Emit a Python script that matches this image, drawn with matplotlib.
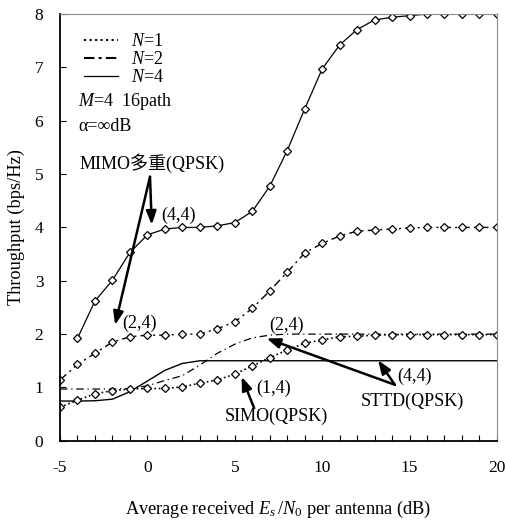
import matplotlib
matplotlib.use('Agg')
import matplotlib.pyplot as plt
from matplotlib.lines import Line2D
from matplotlib.ticker import MultipleLocator

plt.rcParams['font.family'] = ['Liberation Serif', 'Noto Sans CJK JP']
plt.rcParams['mathtext.fontset'] = 'custom'
plt.rcParams['mathtext.rm'] = 'Liberation Serif'
plt.rcParams['mathtext.it'] = 'Liberation Serif:italic'
plt.rcParams['axes.unicode_minus'] = False

# Es/N0 (dB)
snr = list(range(-5, 21))
snr_mimo44 = list(range(-4, 21))

# throughput (bps/Hz)
mimo44 = [1.92, 2.62, 3.01, 3.53, 3.86, 3.97, 4.0, 4.0, 4.03, 4.09, 4.30, 4.77,
          5.44, 6.22, 6.97, 7.42, 7.71, 7.89, 7.94, 7.97, 8.0, 8.0, 8.0, 8.0, 8.0]
mimo24 = [1.14, 1.43, 1.64, 1.85, 1.95, 1.98, 1.98, 2.0, 2.0, 2.1, 2.23, 2.48, 2.81,
          3.16, 3.52, 3.70, 3.84, 3.93, 3.95, 3.97, 3.99, 4.0, 4.0, 4.0, 4.0, 4.0]
simo14 = [0.63, 0.76, 0.88, 0.94, 0.97, 0.98, 0.98, 1.01, 1.08, 1.14, 1.25, 1.40, 1.56,
          1.70, 1.83, 1.89, 1.95, 1.96, 1.98, 1.99, 1.99, 1.99, 1.99, 1.99, 1.99, 1.99]
sttd44 = [0.745, 0.745, 0.75, 0.78, 0.92, 1.12, 1.32, 1.45, 1.5, 1.5, 1.5, 1.5, 1.5,
          1.5, 1.5, 1.5, 1.5, 1.5, 1.5, 1.5, 1.5, 1.5, 1.5, 1.5, 1.5, 1.5]
sttd24 = [0.97, 0.97, 0.97, 0.97, 0.98, 1.03, 1.13, 1.22, 1.42, 1.64, 1.81, 1.93, 1.98,
          2.0, 2.0, 2.0, 2.0, 2.0, 2.0, 2.0, 2.0, 2.0, 2.0, 2.0, 2.0, 2.0]

fig = plt.figure(figsize=(5.06, 5.21), dpi=100)
ax = fig.add_axes([0.1186, 0.154, 0.8634, 0.819])

mk = dict(marker='D', markersize=4.5, markerfacecolor='white',
          markeredgecolor='black', markeredgewidth=0.9)

ax.plot(snr, sttd44, '-', color='black', lw=1.0)
ax.plot(snr, sttd24, color='black', lw=0.9, dashes=[6, 3, 1, 3])
ax.plot(snr, simo14, ':', color='black', lw=1.2, **mk)
ax.plot(snr, mimo24, color='black', lw=1.0, dashes=[6, 3, 1.5, 3], **mk)
ax.plot(snr_mimo44, mimo44, '-', color='black', lw=0.9, **mk)

ax.set_xlim(-5, 20)
ax.set_ylim(0, 8)
ax.xaxis.set_major_locator(MultipleLocator(5))
ax.xaxis.set_minor_locator(MultipleLocator(1))
ax.yaxis.set_major_locator(MultipleLocator(1))
ax.tick_params(axis='x', which='both', direction='in', length=4, width=0.8, pad=14, labelsize=12.5)
ax.tick_params(axis='y', which='both', direction='in', length=4, width=0.8, pad=12, labelsize=12.5)
for s in ['left', 'bottom']:
    ax.spines[s].set_linewidth(1.3)
for s in ['top', 'right']:
    ax.spines[s].set_color('#888888')
    ax.spines[s].set_linewidth(0.8)

ax.set_xlabel('Average received $E_s\\,/N_0$ per antenna (dB)', fontsize=13.2, labelpad=16)
ax.set_ylabel('Throughput (bps/Hz)', fontsize=13.2, labelpad=7)

handles = [Line2D([], [], color='black', ls=':', lw=1.5),
           Line2D([], [], color='black', lw=1.5, dashes=[5, 2, 1.5, 2]),
           Line2D([], [], color='black', ls='-', lw=0.9)]
ax.legend(handles, ['$N$=1', '$N$=2', '$N$=4'], loc='upper left', frameon=False,
          fontsize=13, handlelength=1.9, handletextpad=0.7, labelspacing=0.05,
          borderaxespad=0.3, bbox_to_anchor=(0.025, 0.985))

ax.text(-3.97, 6.36, '$M$=4  16path', fontsize=13, va='center')
ax.text(-3.97, 5.89, 'α=∞dB', fontsize=13, va='center')
ax.text(-3.9, 5.21, 'MIMO多重(QPSK)', fontsize=13, va='center')

arrow = dict(arrowstyle='-|>,head_width=0.3,head_length=0.8', color='black', lw=1.8,
             shrinkA=0, shrinkB=0)
ax.annotate('', xy=(0.25, 4.05), xytext=(0.15, 4.95), arrowprops=arrow)
ax.annotate('', xy=(-1.85, 2.17), xytext=(0.15, 4.95), arrowprops=arrow)
ax.text(1.8, 4.22, '(4,4)', fontsize=13, ha='center', va='center')
ax.text(-0.45, 2.2, '(2,4)', fontsize=13, ha='center', va='center')

ax.text(7.95, 2.17, '(2,4)', fontsize=13, ha='center', va='center')
ax.text(15.3, 1.2, '(4,4)', fontsize=13, ha='center', va='center')
ax.text(15.15, 0.73, 'STTD(QPSK)', fontsize=13, ha='center', va='center')
ax.annotate('', xy=(6.82, 1.92), xytext=(14.16, 1.05), arrowprops=arrow)
ax.annotate('', xy=(13.2, 1.51), xytext=(14.16, 1.05), arrowprops=arrow)

ax.text(7.2, 0.99, '(1,4)', fontsize=13, ha='center', va='center')
ax.text(7.4, 0.45, 'SIMO(QPSK)', fontsize=13, ha='center', va='center')
ax.annotate('', xy=(5.39, 1.2), xytext=(6.1, 0.62), arrowprops=arrow)

fig.savefig('out.png', dpi=100)
